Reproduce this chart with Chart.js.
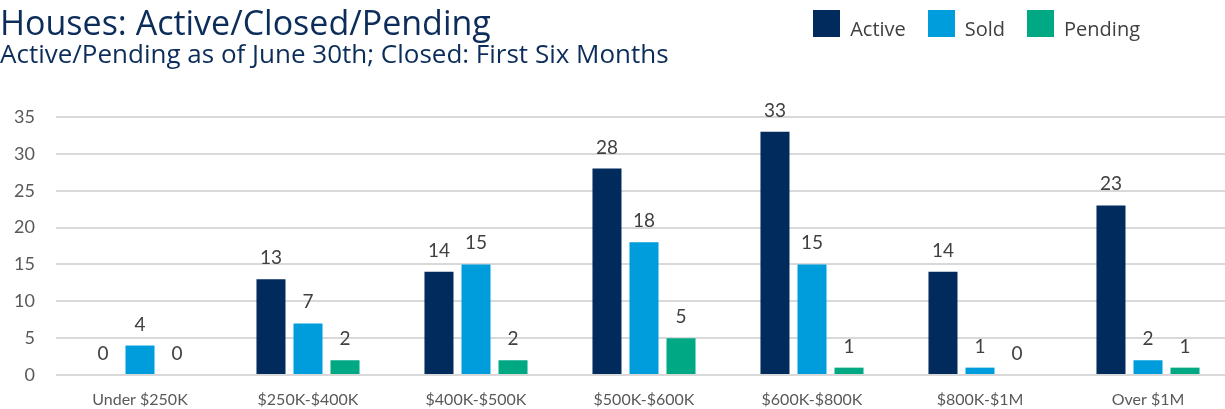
<!DOCTYPE html>
<html>
<head>
<meta charset="utf-8">
<script src="https://cdn.jsdelivr.net/npm/chart.js@4.4.1/dist/chart.umd.min.js"></script>
<style>
    body { margin: 0; width: 1225px; height: 409px; overflow: hidden; background: #fff; position: relative; }
    #chart { position: absolute; left: 0; top: 0; }
    .title { position: absolute; left: 0; top: 2px; font: 34px 'Open Sans', sans-serif; color: #0c2d5a; line-height: 1.2; white-space: nowrap; }
    .subtitle { position: absolute; left: 0; top: 38px; font: 26px 'Open Sans', sans-serif; color: #0c2d5a; line-height: 1.2; white-space: nowrap; }
</style>
</head>
<body>
<canvas id="chart" width="1232" height="409"></canvas>
<div class="title">Houses: Active/Closed/Pending</div>
<div class="subtitle">Active/Pending as of June 30th; Closed: First Six Months</div>
<script>
const categories = ['Under $250K', '$250K-$400K', '$400K-$500K', '$500K-$600K', '$600K-$800K', '$800K-$1M', 'Over $1M'];
const activeValues = [0, 13, 14, 28, 33, 14, 23];
const soldValues = [4, 7, 15, 18, 15, 1, 2];
const pendingValues = [0, 2, 2, 5, 1, 0, 1];
const seriesColors = ['#002b5c', '#009ddc', '#00a984'];

// legend square sits above the text's centre line, so draw it into a taller image
function legendSwatch(color) {
    const c = document.createElement('canvas');
    c.width = 27;
    c.height = 40;
    const g = c.getContext('2d');
    g.fillStyle = color;
    g.fillRect(0, 0, 27, 27);
    return c;
}
const swatches = seriesColors.map(legendSwatch);

// push the plot area down under the title block and move the legend off the right edge
const legendSpace = {
    id: 'legendSpace',
    beforeInit(chart) {
        const fit = chart.legend.fit;
        chart.legend.fit = function () {
            fit.call(this);
            this.height = 117;
        };
    },
    afterLayout(chart) {
        chart.legend.right = 1162;
        chart.legend.top = -2;
    }
};

const barLabels = {
    id: 'barLabels',
    afterDatasetsDraw(chart) {
        const ctx = chart.ctx;
        ctx.save();
        ctx.font = '19px Lato, sans-serif';
        ctx.fillStyle = '#404040';
        ctx.textAlign = 'center';
        ctx.textBaseline = 'alphabetic';
        chart.data.datasets.forEach((ds, i) => {
            chart.getDatasetMeta(i).data.forEach((bar, j) => {
                ctx.fillText(ds.data[j], bar.x, bar.y - 15);
            });
        });
        ctx.restore();
    }
};

let ctx = document.getElementById('chart').getContext('2d');
new Chart(ctx, {
    type: 'bar',
    data: {
        labels: categories,
        datasets: [{
            label: 'Active',
            data: activeValues,
            backgroundColor: seriesColors[0],
        }, {
            label: 'Sold',
            data: soldValues,
            backgroundColor: seriesColors[1],
        }, {
            label: 'Pending',
            data: pendingValues,
            backgroundColor: seriesColors[2],
        }]
    },
    options: {
        responsive: false,
        animation: false,
        categoryPercentage: 0.661,
        barPercentage: 0.784,
        layout: { padding: 0 },
        scales: {
            x: {
                grid: { display: false, drawTicks: false },
                border: { display: false },
                ticks: {
                    color: '#595959',
                    font: { family: 'Lato', size: 16 },
                    padding: 15,
                    maxRotation: 0
                },
                afterFit(scale) { scale.height = 34; }
            },
            y: {
                min: 0,
                max: 35,
                ticks: {
                    stepSize: 5,
                    color: '#595959',
                    font: { family: 'Lato', size: 18 },
                    padding: 21
                },
                grid: { color: '#d9d9d9', lineWidth: 2, drawTicks: false },
                border: { display: false },
                afterFit(scale) { scale.width = 56; }
            }
        },
        plugins: {
            legend: {
                position: 'top',
                align: 'end',
                labels: {
                    usePointStyle: true,
                    pointStyleWidth: 27,
                    padding: 22,
                    color: '#404040',
                    font: { family: 'Open Sans', size: 20 },
                    generateLabels(chart) {
                        const items = Chart.defaults.plugins.legend.labels.generateLabels(chart);
                        items.forEach((item, i) => { item.pointStyle = swatches[i]; });
                        return items;
                    }
                }
            },
            tooltip: { enabled: false }
        }
    },
    plugins: [legendSpace, barLabels]
});
</script>
</body>
</html>
